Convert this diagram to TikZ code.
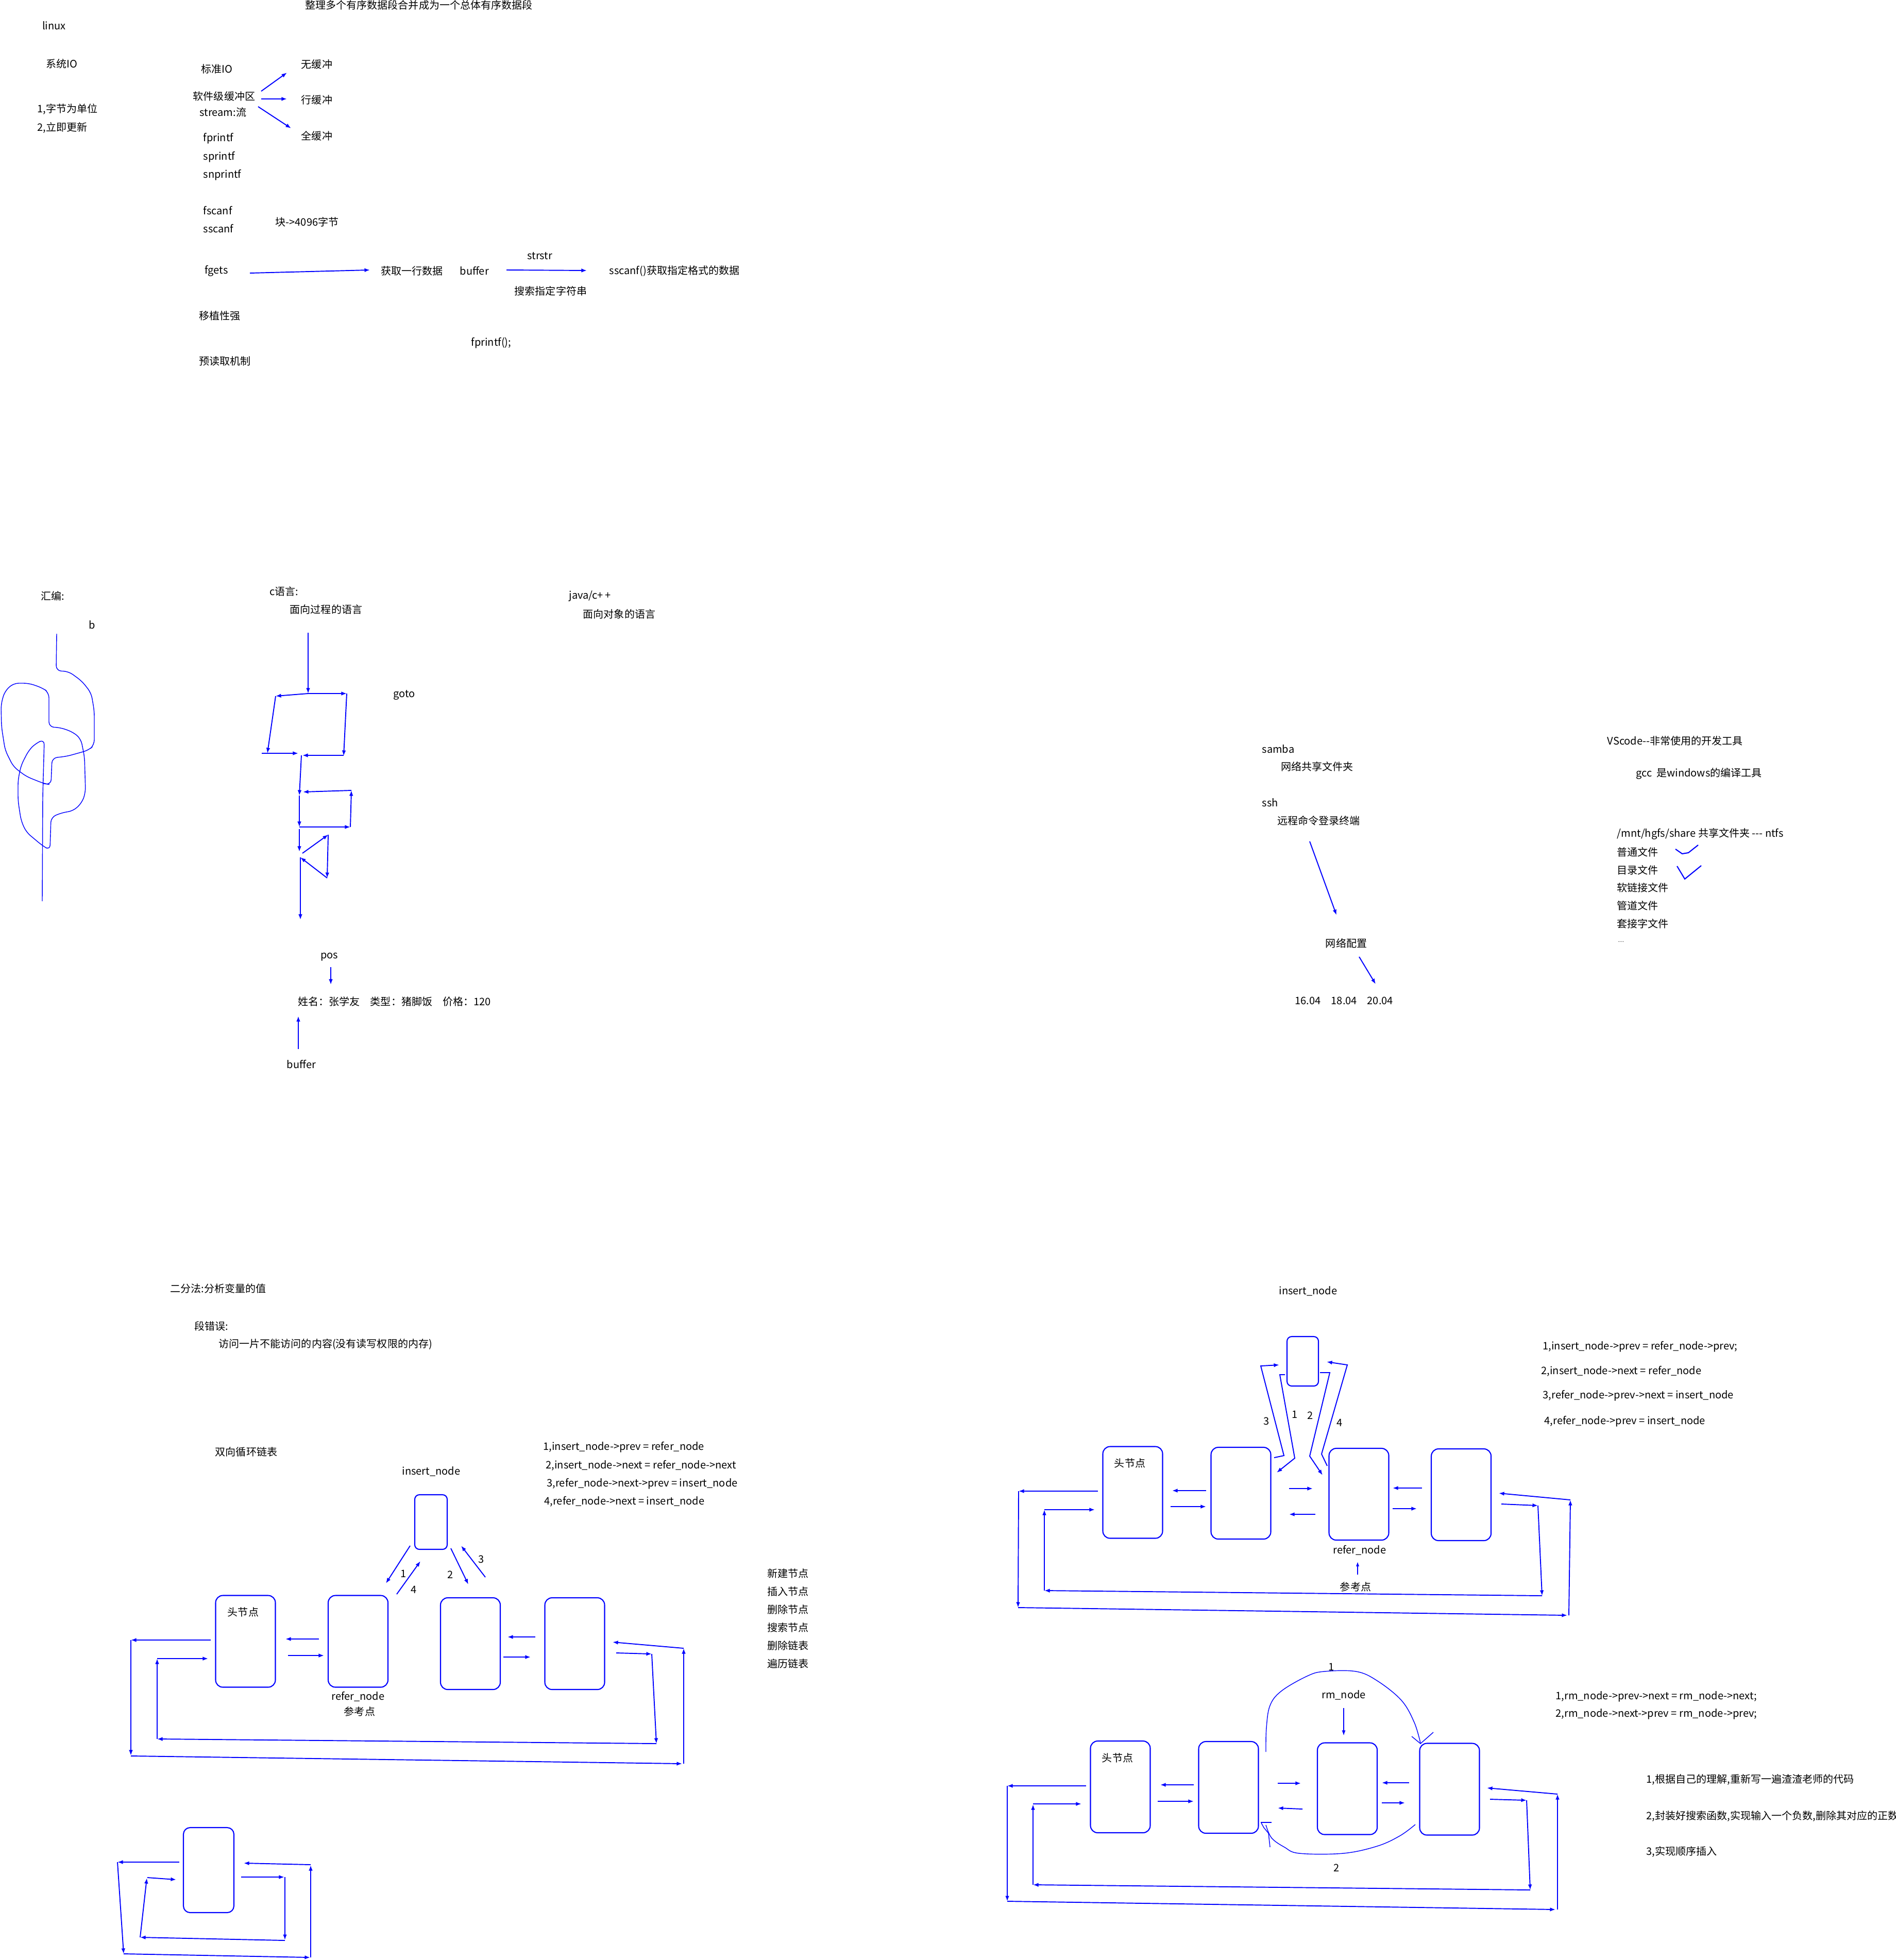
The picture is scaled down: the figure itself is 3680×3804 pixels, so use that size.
\documentclass[tikz,border=0pt]{standalone}
\usepackage{fontspec}
\setmainfont{Noto Sans CJK SC}
\usetikzlibrary{arrows.meta}
\definecolor{ink}{RGB}{0,0,255}
\newcommand{\notefont}{\fontsize{5.7pt}{6.8pt}\selectfont}
\newcommand{\hy}{\mbox{-}}
\tikzset{
  note/.style={inner sep=0pt, font=\notefont, text=black},
  cell/.style={draw=ink, line width=0.6pt, rounded corners=1.4mm, inner sep=0pt,
               minimum width=11.6mm, minimum height=17.8mm},
  newcell/.style={draw=ink, line width=0.6pt, rounded corners=0.9mm, inner sep=0pt},
  ptr/.style={-{Latex[length=3pt,width=2.2pt]}, ink, line width=0.55pt},
  hand/.style={ink, line width=0.4pt},
}

\begin{document}
\begin{tikzpicture}[x=0.1mm, y=-0.1mm]
\path[fill=white, use as bounding box] (0,0) rectangle (3680,3804);

% ---- stdio notes
\node[note] (title) at (813,10) {整理多个有序数据段合并成为一个总体有序数据段};
\node[note] (linux) at (105,50) {linux};
\node[note] (sysio) at (120,124) {系统IO};
\node[note, anchor=west] (byte) at (72,212) {1,字节为单位};
\node[note, anchor=west] (now) at (72,248) {2,立即更新};
\node[note] (stdio) at (421,134) {标准IO};
\node[note] (swbuf) at (435,187) {软件级缓冲区};
\node[note] (stream) at (433,218) {stream:流};
\node[note] (nobuf) at (615,125) {无缓冲};
\node[note] (linebuf) at (615,194) {行缓冲};
\node[note] (fullbuf) at (615,264) {全缓冲};
\draw[ptr] (507,177) -- (557,141);
\draw[ptr] (507,192) -- (557,192);
\draw[ptr] (501,207) -- (565,249);
\node[note, anchor=west] (fpr) at (394,269) {fprintf};
\node[note, anchor=west] (spr) at (394,305) {sprintf};
\node[note, anchor=west] (snpr) at (394,340) {snprintf};
\node[note, anchor=west] (fsc) at (394,409) {fscanf};
\node[note, anchor=west] (ssc) at (394,444) {sscanf};
\node[note, anchor=west] (blk) at (534,431) {块->4096字节};
\node[note, anchor=west] (fgets) at (397,526) {fgets};
\node[note, anchor=west] (oneline) at (739,526) {获取一行数据};
\node[note, anchor=west] (buf) at (892,526) {buffer};
\node[note, anchor=west] (fmt) at (1182,526) {sscanf()获取指定格式的数据};
\node[note] (strstr) at (1048,497) {strstr};
\node[note] (search) at (1069,565) {搜索指定字符串};
\draw[ptr] (485,530) -- (718,524);
\draw[ptr] (983,524) -- (1139,525);
\node[note, anchor=west] (port) at (386,613) {移植性强};
\node[note, anchor=west] (fpr2) at (914,666) {fprintf();};
\node[note, anchor=west] (pre) at (386,701) {预读取机制};

% ---- languages
\node[note] (asm) at (102,1157) {汇编:};
\node[note] (b) at (179,1213) {b};
\node[note] (clang) at (551,1148) {c语言:};
\node[note] (proc) at (633,1183) {面向过程的语言};
\node[note] (java) at (1145,1157) {java/c+\,+};
\node[note] (oop) at (1202,1192) {面向对象的语言};
\node[note] (goto) at (785,1349) {goto};
\draw[hand, rounded corners=1mm] (110,1230) -- (109,1302) -- (133,1303) -- (159,1322)
  -- (177,1345) -- (183,1380) -- (183,1446) -- (172,1456) -- (129,1468) -- (101,1471)
  -- (99,1523) -- (86,1521) -- (51,1507) -- (26,1488) -- (10,1456) -- (3,1411)
  -- (2,1367) -- (9,1342) -- (26,1326) -- (56,1326) -- (82,1335) -- (95,1344)
  -- (95,1411) -- (117,1412) -- (142,1421) -- (157,1434) -- (164,1469) -- (166,1538)
  -- (159,1558) -- (142,1574) -- (121,1577) -- (99,1586) -- (97,1650) -- (82,1641)
  -- (51,1615) -- (41,1593) -- (35,1554) -- (35,1514) -- (41,1485) -- (56,1456)
  -- (69,1443) -- (86,1435) -- (83,1545) -- (82,1749);
\draw[ptr] (598,1228) -- (598,1346);
\draw[ptr] (598,1346) -- (535,1351);
\draw[ptr] (598,1346) -- (673,1346);
\draw[ptr] (535,1351) -- (519,1462);
\draw[ptr] (673,1346) -- (667,1467);
\draw[ptr] (508,1462) -- (579,1462);
\draw[ptr] (667,1466) -- (587,1466);
\draw[ptr] (585,1466) -- (581,1544);
\draw[ptr] (581,1544) -- (581,1605);
\draw[ptr] (581,1605) -- (680,1605);
\draw[ptr] (680,1605) -- (682,1534);
\draw[ptr] (682,1534) -- (588,1537);
\draw[ptr] (581,1609) -- (581,1653);
\draw[ptr] (587,1656) -- (637,1620);
\draw[ptr] (637,1620) -- (635,1704);
\draw[ptr] (635,1704) -- (583,1664);
\draw[ptr] (583,1664) -- (583,1785);
\node[note] (pos) at (639,1857) {pos};
\node[note, anchor=west] (rec) at (578,1944) {姓名：张学友　类型：猪脚饭　价格：120};
\node[note] (buf2) at (585,2066) {buffer};
\draw[ptr] (642,1877) -- (642,1911);
\draw[ptr] (579,2036) -- (579,1972);

% ---- tools
\node[note, anchor=west] (samba) at (2449,1454) {samba};
\node[note, anchor=west] (share) at (2486,1488) {网络共享文件夹};
\node[note, anchor=west] (ssh) at (2449,1558) {ssh};
\node[note, anchor=west] (remote) at (2479,1593) {远程命令登录终端};
\node[note] (netcfg) at (2613,1831) {网络配置};
\node[note, anchor=west] (ver) at (2513,1942) {16.04\hspace{2mm}18.04\hspace{2mm}20.04};
\draw[ptr] (2542,1633) -- (2594,1776);
\draw[ptr] (2638,1857) -- (2670,1910);
\node[note, anchor=west] (vsc) at (3119,1438) {VScode\hy\hy 非常使用的开发工具};
\node[note, anchor=west] (gcc) at (3175,1502) {gcc\ \ 是windows的编译工具};
\node[note, anchor=west] (mnt) at (3138,1619) {/mnt/hgfs/share 共享文件夹 \hy\hy\hy{} ntfs};
\node[note, anchor=west] (f1) at (3138,1654) {普通文件};
\node[note, anchor=west] (f2) at (3138,1689) {目录文件};
\node[note, anchor=west] (f3) at (3138,1723) {软链接文件};
\node[note, anchor=west] (f4) at (3138,1758) {管道文件};
\node[note, anchor=west] (f5) at (3138,1793) {套接字文件};
\node[note, anchor=west, font=\fontsize{3pt}{3pt}\selectfont] (f6) at (3140,1828) {…};
\draw[ink, line width=0.6pt] (3252,1648) -- (3265,1657) -- (3277,1655) -- (3296,1640);
\draw[ink, line width=0.6pt] (3255,1681) -- (3270,1706) -- (3302,1680);

% ---- segfault notes
\node[note, anchor=west] (bisect) at (330,2501) {二分法:分析变量的值};
\node[note, anchor=west] (segv) at (377,2574) {段错误:};
\node[note, anchor=west] (segvd) at (424,2609) {访问一片不能访问的内容(没有读写权限的内存)};

% ---- list insert (after refer_node)
\node[note] (dlist) at (478,2818) {双向循环链表};
\node[note] (Linsl) at (837,2856) {insert\_node};
\node[note, anchor=west] (Leq1) at (1054,2809) {1,insert\_node->prev = refer\_node};
\node[note, anchor=west] (Leq2) at (1059,2844) {2,insert\_node->next = refer\_node->next};
\node[note, anchor=west] (Leq3) at (1061,2880) {3,refer\_node->next->prev = insert\_node};
\node[note, anchor=west] (Leq4) at (1056,2914) {4,refer\_node->next = insert\_node};
\node[newcell, minimum width=6.3mm, minimum height=10.6mm] (Lins) at (836.5,2954) {};
\node[cell] (Lhd) at (476.5,3185.5) {};
\node[cell] (Lref) at (695,3185.5) {};
\node[cell] (L3) at (913,3190) {};
\node[cell] (L4) at (1115.5,3190) {};
\node[note] (Lhdl) at (472,3129) {头节点};
\node[note] (Lrefl) at (695,3293) {refer\_node};
\node[note] (Lrefc) at (698,3322) {参考点};
\draw[ptr] (796,3000) -- (749,3073);
\draw[ptr] (770,3094) -- (816,3030);
\draw[ptr] (875,3005) -- (909,3075);
\draw[ptr] (942,3061) -- (895,3000);
\node[note] at (783,3054) {1};
\node[note] at (803,3085) {4};
\node[note] at (874,3056) {2};
\node[note] at (934,3026) {3};
\draw[ptr] (619,3181) -- (554,3181);
\draw[ptr] (559,3213) -- (629,3213);
\draw[ptr] (1039,3177) -- (985,3177);
\draw[ptr] (977,3216) -- (1030,3216);
\draw[ptr] (409,3183) -- (254,3183);
\draw[ptr] (254,3183) -- (254,3407);
\draw[ptr] (254,3408) -- (1324,3423);
\draw[ptr] (1327,3423) -- (1327,3199);
\draw[ptr] (1327,3199) -- (1189,3187);
\draw[ptr] (1196,3208) -- (1265,3210);
\draw[ptr] (1265,3210) -- (1274,3384);
\draw[ptr] (1274,3384) -- (305,3375);
\draw[ptr] (305,3375) -- (305,3219);
\draw[ptr] (305,3219) -- (404,3219);
\node[note, anchor=west] (op1) at (1489,3054) {新建节点};
\node[note, anchor=west] (op2) at (1489,3089) {插入节点};
\node[note, anchor=west] (op3) at (1489,3124) {删除节点};
\node[note, anchor=west] (op4) at (1489,3159) {搜索节点};
\node[note, anchor=west] (op5) at (1489,3194) {删除链表};
\node[note, anchor=west] (op6) at (1489,3229) {遍历链表};

% ---- single node loop
\node[newcell, rounded corners=1.3mm, minimum width=9.8mm, minimum height=16.5mm] (Bbx) at (405,3629.5) {};
\draw[ptr] (348,3614) -- (228,3614);
\draw[ptr] (228,3614) -- (240,3792);
\draw[ptr] (240,3792) -- (602,3799);
\draw[ptr] (603,3799) -- (603,3620);
\draw[ptr] (603,3619) -- (473,3616);
\draw[ptr] (468,3643) -- (552,3643);
\draw[ptr] (553,3643) -- (553,3765);
\draw[ptr] (553,3766) -- (272,3760);
\draw[ptr] (272,3760) -- (285,3645);
\draw[ptr] (286,3644) -- (342,3648);

% ---- list insert (before refer_node)
\node[note] (Rinsl) at (2539,2506) {insert\_node};
\node[note, anchor=west] (Req1) at (2994,2614) {1,insert\_node->prev = refer\_node->prev;};
\node[note, anchor=west] (Req2) at (2991,2661) {2,insert\_node->next = refer\_node};
\node[note, anchor=west] (Req3) at (2994,2709) {3,refer\_node->prev->next = insert\_node};
\node[note, anchor=west] (Req4) at (2997,2759) {4,refer\_node->prev = insert\_node};
\node[newcell, minimum width=6.1mm, minimum height=9.6mm] (Rins) at (2528.5,2642) {};
\node[cell] (Rhd) at (2198.5,2896.5) {};
\node[cell] (R2) at (2408.5,2898) {};
\node[cell] (Rref) at (2637.5,2900) {};
\node[cell] (R4) at (2836,2901) {};
\node[note] (Rhdl) at (2193,2840) {头节点};
\node[note] (Rrefl) at (2639,3009) {refer\_node};
\node[note] (Rrefc) at (2631,3080) {参考点};
\draw[ink, line width=0.4pt, -{Latex[length=2.5pt,width=1.8pt]}] (2635,3056) -- (2635,3031);
\draw[ptr] (2473,2829) -- (2492,2825) -- (2447,2651) -- (2483,2649);
\draw[ptr] (2494,2668) -- (2484,2668) -- (2513,2830) -- (2478,2858);
\draw[ptr] (2562,2664) -- (2581,2664) -- (2542,2826) -- (2567,2863);
\draw[ptr] (2576,2845) -- (2565,2822) -- (2615,2649) -- (2575,2643);
\node[note] at (2458,2758) {3};
\node[note] at (2513,2745) {1};
\node[note] at (2543,2747) {2};
\node[note] at (2600,2761) {4};
\draw[ptr] (2341,2893) -- (2275,2893);
\draw[ptr] (2272,2924) -- (2341,2924);
\draw[ptr] (2502,2889) -- (2548,2889);
\draw[ptr] (2553,2939) -- (2502,2939);
\draw[ptr] (2760,2888) -- (2703,2888);
\draw[ptr] (2703,2928) -- (2750,2928);
\draw[ptr] (2131,2894) -- (1977,2894);
\draw[ptr] (1977,2894) -- (1976,3120);
\draw[ptr] (1976,3120) -- (3042,3135);
\draw[ptr] (3045,3135) -- (3048,2911);
\draw[ptr] (3048,2911) -- (2909,2898);
\draw[ptr] (2914,2919) -- (2985,2922);
\draw[ptr] (2985,2922) -- (2993,3097);
\draw[ptr] (2993,3097) -- (2027,3087);
\draw[ptr] (2027,3087) -- (2027,2930);
\draw[ptr] (2027,2930) -- (2125,2930);

% ---- list remove
\node[note] (rm1) at (2584,3235) {1};
\node[note] (rml) at (2608,3290) {rm\_node};
\node[note, anchor=west] (Deq1) at (3019,3293) {1,rm\_node->prev->next = rm\_node->next;};
\node[note, anchor=west] (Deq2) at (3019,3327) {2,rm\_node->next->prev = rm\_node->prev;};
\node[cell] (Dhd) at (2174.5,3468) {};
\node[cell] (D2) at (2384.5,3469) {};
\node[cell] (Drm) at (2615,3471.5) {};
\node[cell] (D4) at (2813.5,3472.5) {};
\node[note] (Dhdl) at (2169,3412) {头节点};
\draw[ink, line width=0.55pt, -{Latex[length=3pt,width=2pt]}] (2608,3315) -- (2608,3369);
\draw[hand] plot[smooth, tension=0.6] coordinates {(2457,3400) (2458,3353) (2465,3310)
  (2487,3282) (2537,3253) (2570,3244) (2632,3244) (2673,3262) (2720,3300) (2745,3343)
  (2757,3383)};
\draw[hand] (2740,3370) -- (2757,3384) -- (2782,3362);
\draw[hand] plot[smooth, tension=0.6] coordinates {(2747,3541) (2717,3563) (2673,3583)
  (2607,3597) (2522,3597) (2493,3585) (2468,3567) (2457,3542)};
\draw[hand] (2447,3537) -- (2468,3537);
\draw[hand] (2448,3538) -- (2453,3547) -- (2462,3558) -- (2465,3585);
\node[note] (rm2) at (2594,3625) {2};
\draw[ptr] (2317,3464) -- (2252,3464);
\draw[ptr] (2247,3496) -- (2317,3496);
\draw[ptr] (2480,3461) -- (2525,3461);
\draw[ptr] (2528,3511) -- (2480,3509);
\draw[ptr] (2735,3460) -- (2682,3460);
\draw[ptr] (2682,3499) -- (2727,3499);
\draw[ptr] (2108,3466) -- (1955,3466);
\draw[ptr] (1955,3466) -- (1955,3690);
\draw[ptr] (1955,3690) -- (3019,3706);
\draw[ptr] (3023,3706) -- (3023,3482);
\draw[ptr] (3023,3482) -- (2886,3470);
\draw[ptr] (2892,3492) -- (2963,3494);
\draw[ptr] (2963,3494) -- (2970,3668);
\draw[ptr] (2970,3668) -- (2005,3658);
\draw[ptr] (2005,3658) -- (2005,3502);
\draw[ptr] (2005,3501) -- (2099,3501);
\node[note, anchor=west] (todo1) at (3195,3454) {1,根据自己的理解,重新写一遍渣渣老师的代码};
\node[note, anchor=west] (todo2) at (3195,3525) {2,封装好搜索函数,实现输入一个负数,删除其对应的正数};
\node[note, anchor=west] (todo3) at (3195,3594) {3,实现顺序插入};
\end{tikzpicture}
\end{document}
